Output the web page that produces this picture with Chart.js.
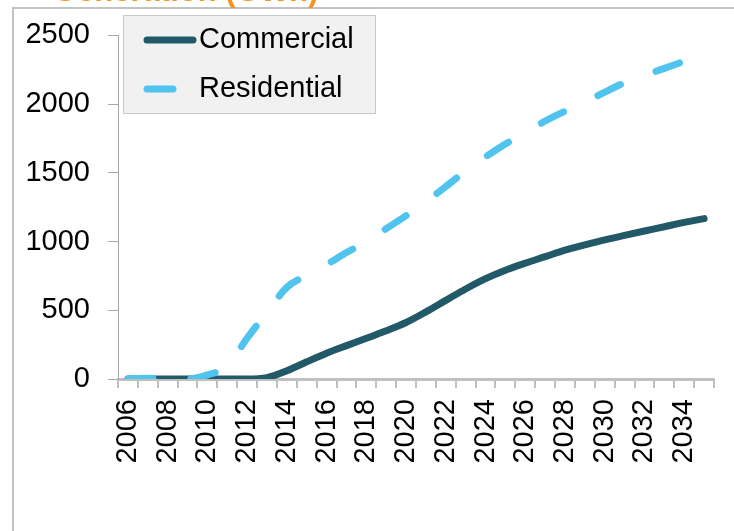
<!DOCTYPE html>
<html>
<head>
<meta charset="utf-8">
<script src="https://cdn.jsdelivr.net/npm/chart.js@4/dist/chart.umd.min.js"></script>
<style>
  html, body { margin: 0; padding: 0; background: #fff; }
  #wrap { width: 734px; height: 531px; position: relative; }
</style>
</head>
<body>
<div id="wrap"><canvas id="chart"></canvas></div>
<script>
// yearly solar generation, GWh
const years = [
  "2006", "2007", "2008", "2009", "2010", "2011", "2012", "2013", "2014", "2015",
  "2016", "2017", "2018", "2019", "2020", "2021", "2022", "2023", "2024", "2025",
  "2026", "2027", "2028", "2029", "2030", "2031", "2032", "2033", "2034", "2035"
];
const commercial = [
  0, 0, 0, 0, 0, 0, 0, 10, 60, 125,
  188, 243, 296, 351, 411, 488, 572, 655, 730, 792,
  843, 890, 938, 976, 1012, 1045, 1077, 1108, 1140, 1167
];
const residential = [
  0, 5, 0, 0, 30, 95, 297, 485, 667, 754,
  833, 920, 1000, 1094, 1188, 1290, 1400, 1514, 1616, 1710,
  1790, 1877, 1949, 2014, 2087, 2156, 2210, 2260, 2311, 2355
];
const yTicks = [0, 500, 1000, 1500, 2000, 2500];

const FONT = "'Liberation Sans', Arial, sans-serif";
const COMMERCIAL_COLOR = "#215968";
const RESIDENTIAL_COLOR = "#50c3ef";

// frame lines + title cut off by the top edge
const framePlugin = {
  id: "frame",
  beforeDraw(chart) {
    const ctx = chart.ctx;
    ctx.save();
    ctx.strokeStyle = "#c3c3c3";
    ctx.lineWidth = 2;
    ctx.beginPath();
    ctx.moveTo(13, chart.height);
    ctx.lineTo(13, 8);
    ctx.lineTo(chart.width, 8);
    ctx.stroke();
    ctx.fillStyle = "#f7941d";
    ctx.font = "bold 31px " + FONT;
    ctx.textBaseline = "alphabetic";
    ctx.fillText("Generation (GWh)", 53, 0.5);
    ctx.restore();
  }
};

// legend box drawn inside the plot area
const boxLegend = {
  id: "boxLegend",
  afterDraw(chart) {
    const ctx = chart.ctx;
    const x = 123, y = 15, w = 253, h = 99;
    ctx.save();
    ctx.fillStyle = "#f1f1f1";
    ctx.fillRect(x, y, w, h);
    ctx.strokeStyle = "#c8c8c8";
    ctx.lineWidth = 1;
    ctx.strokeRect(x + 0.5, y + 0.5, w - 1, h - 1);
    const rows = [40, 89];
    chart.data.datasets.forEach((ds, i) => {
      const cy = rows[i];
      ctx.strokeStyle = ds.borderColor;
      ctx.lineWidth = ds.borderWidth;
      ctx.lineCap = "round";
      ctx.setLineDash([]);
      ctx.beginPath();
      ctx.moveTo(147, cy);
      ctx.lineTo(ds.borderDash ? 173 : 193, cy);
      ctx.stroke();
      ctx.fillStyle = "#000";
      ctx.font = "29px " + FONT;
      ctx.textBaseline = "middle";
      ctx.fillText(ds.label, 199, cy);
    });
    ctx.restore();
  }
};

const ctx = document.getElementById("chart").getContext("2d");
new Chart(ctx, {
  type: "line",
  data: {
    labels: years,
    datasets: [
      {
        label: "Commercial",
        data: commercial,
        borderColor: COMMERCIAL_COLOR,
        borderWidth: 7,
        borderCapStyle: "round",
        borderJoinStyle: "round",
        pointRadius: 0,
        cubicInterpolationMode: "monotone",
        order: 1,
      },
      {
        label: "Residential",
        data: residential,
        borderColor: RESIDENTIAL_COLOR,
        borderWidth: 7,
        borderDash: [25, 38],
        borderCapStyle: "round",
        borderJoinStyle: "round",
        pointRadius: 0,
        cubicInterpolationMode: "monotone",
        order: 0,
      },
    ],
  },
  options: {
    responsive: true,
    maintainAspectRatio: false,
    animation: false,
    layout: { padding: { top: 34, right: 20, left: 0, bottom: 0 } },
    plugins: {
      legend: { display: false },
      title: { display: false },
      tooltip: { enabled: false },
    },
    scales: {
      x: {
        offset: true,
        afterFit(scale) {
          scale.height = 152;
          scale.paddingLeft = 0;
          scale.paddingRight = 0;
        },
        grid: {
          offset: true,
          drawOnChartArea: false,
          tickLength: 9,
          color: "#bfbfbf",
          lineWidth: 2,
        },
        border: { color: "#bfbfbf", width: 3 },
        ticks: {
          autoSkip: false,
          minRotation: 90,
          maxRotation: 90,
          padding: 11,
          color: "#000",
          font: { family: FONT, size: 29 },
          callback: (v, i) => (i % 2 === 0 ? years[i] : ""),
        },
      },
      y: {
        min: yTicks[0],
        max: yTicks[yTicks.length - 1],
        afterFit(scale) { scale.width = 118; },
        afterBuildTicks(scale) { scale.ticks = yTicks.map(v => ({ value: v })); },
        grid: {
          drawOnChartArea: false,
          tickLength: 10,
          color: "#a6a6a6",
          lineWidth: 1,
        },
        border: { color: "#a6a6a6", width: 1 },
        ticks: {
          padding: 18,
          color: "#000",
          font: { family: FONT, size: 29 },
          callback: v => String(v),
        },
      },
    },
  },
  plugins: [framePlugin, boxLegend],
});
</script>
</body>
</html>
